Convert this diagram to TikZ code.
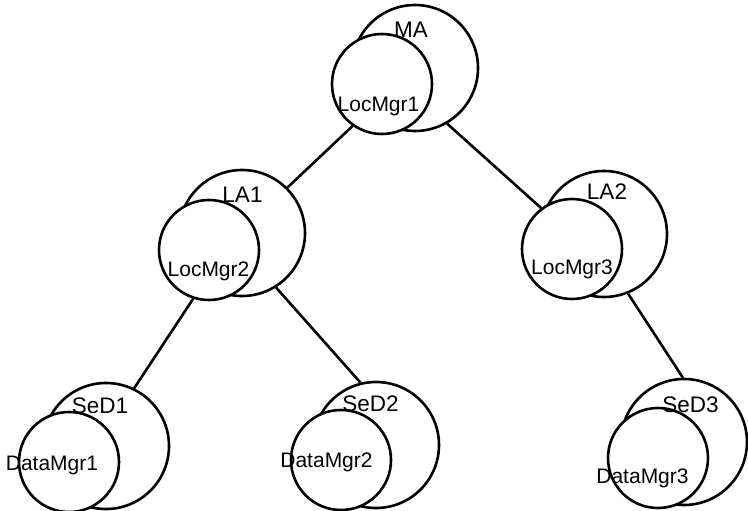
\documentclass[tikz,border=0pt]{standalone}
\usepackage{fontspec}
\setmainfont{Liberation Sans}
\begin{document}
\begin{tikzpicture}[x=1pt,y=-1pt,
  bigc/.style={circle,draw,line width=2.6pt,minimum size=126pt,inner sep=0pt,fill=white},
  smallc/.style={circle,draw,line width=2.6pt,minimum size=100pt,inner sep=0pt,fill=white},
  biglbl/.style={anchor=base,inner sep=0pt,font=\fontsize{22.5}{26}\selectfont},
  smalllbl/.style={anchor=base,inner sep=0pt,font=\fontsize{21}{24}\selectfont},
  conn/.style={line width=2.6pt}]
\useasboundingbox (0,0) rectangle (748,511);
% big circles
\node[bigc] (MAb) at (415,68) {};
\node[bigc] (LA1b) at (242,233) {};
\node[bigc] (LA2b) at (604,234) {};
\node[bigc] (SeD1b) at (106,446) {};
\node[bigc] (SeD2b) at (376,445) {};
\node[bigc] (SeD3b) at (684,442) {};
% small circles
\node[smallc] (MAs) at (382,84) {};
\node[smallc] (LA1s) at (209,250) {};
\node[smallc] (LA2s) at (572,249) {};
\node[smallc] (SeD1s) at (69,462) {};
\node[smallc] (SeD2s) at (341,460) {};
\node[smallc] (SeD3s) at (658,458) {};
% labels
\node[biglbl] (tMA) at (411,38) {MA};
\node[biglbl] (tLA1) at (242.5,202) {LA1};
\node[biglbl] (tLA2) at (607,199) {LA2};
\node[biglbl] (tSeD1) at (100,413) {SeD1};
\node[biglbl] (tSeD2) at (370.5,411) {SeD2};
\node[biglbl] (tSeD3) at (690.5,412) {SeD3};
\node[smalllbl] (tLoc1) at (378.5,112) {LocMgr1};
\node[smalllbl] (tLoc2) at (208.5,276) {LocMgr2};
\node[smalllbl] (tLoc3) at (572,274) {LocMgr3};
\node[smalllbl] (tDat1) at (52,470) {DataMgr1};
\node[smalllbl] (tDat2) at (326.5,467) {DataMgr2};
\node[smalllbl] (tDat3) at (642.5,483) {DataMgr3};
% connectors
\draw[conn] (MAs.235) -- (LA1b.45);
\draw[conn] (MAb.300) -- (LA2s.127);
\draw[conn] (LA1s.252) -- (SeD1b.64);
\draw[conn] (LA1b.302) -- (SeD2b.104);
\draw[conn] (LA2b.292) -- (SeD3b.91);
\end{tikzpicture}
\end{document}
